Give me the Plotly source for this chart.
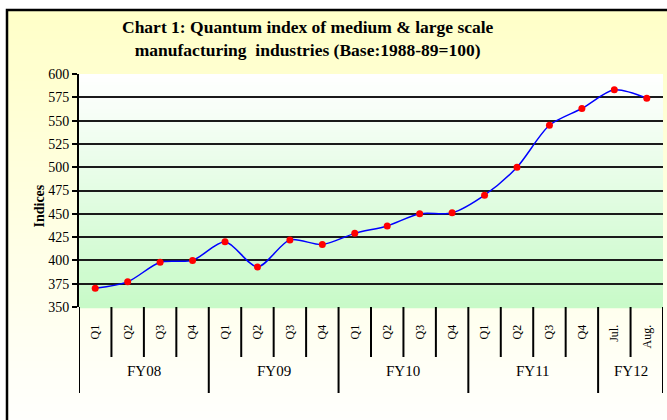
import plotly.graph_objects as go

# ---- data ----
groups = ["FY08", "FY09", "FY10", "FY11", "FY12"]
group_sizes = [4, 4, 4, 4, 2]
periods = ["Q1", "Q2", "Q3", "Q4",
           "Q1", "Q2", "Q3", "Q4",
           "Q1", "Q2", "Q3", "Q4",
           "Q1", "Q2", "Q3", "Q4",
           "Jul.", "Aug."]
indices = [370, 377, 398, 400,
           420, 393, 422, 417,
           429, 437, 450, 451,
           470, 500, 545, 563,
           583, 574]
y_ticks = [350, 375, 400, 425, 450, 475, 500, 525, 550, 575, 600]

W, H = 667, 420
ML, MR, MT, MB = 79, 4, 74, 113
PW, PH = W - ML - MR, H - MT - MB

def px_x(p):
    return (p - ML) / PW

def px_y(p):
    return (H - MB - p) / PH

xpos = list(range(len(periods)))
FONT = "Liberation Serif, Times New Roman, serif"

fig = go.Figure()
fig.add_trace(go.Scatter(
    x=xpos, y=indices, mode="lines+markers",
    line=dict(color="#0000FF", width=1.5, shape="spline", smoothing=0.8),
    marker=dict(color="#FF0000", size=7),
    showlegend=False, hoverinfo="y",
))

shapes = []

def mix(c1, c2, t):
    return "rgb(%d,%d,%d)" % tuple(round(a + (b - a) * t) for a, b in zip(c1, c2))

# outer gradient (yellow -> white)
top_px, bot_px = 10, 440
N = 60
for i in range(N):
    y0 = top_px + (bot_px - top_px) * i / N
    y1 = top_px + (bot_px - top_px) * (i + 1) / N + 0.8
    shapes.append(dict(type="rect", xref="paper", yref="paper",
                       x0=px_x(7), x1=px_x(700), y0=px_y(y0), y1=px_y(y1),
                       fillcolor=mix((255, 255, 200), (255, 255, 255), i / (N - 1)),
                       line=dict(width=0), layer="below"))
# plot-area gradient (white -> light green)
for i in range(N):
    y0 = i / N
    y1 = (i + 1) / N + 0.005
    shapes.append(dict(type="rect", xref="paper", yref="paper",
                       x0=0, x1=1, y0=1 - y1, y1=1 - y0,
                       fillcolor=mix((255, 255, 255), (200, 250, 200), i / (N - 1)),
                       line=dict(width=0), layer="below"))
# outer border
shapes.append(dict(type="rect", xref="paper", yref="paper",
                   x0=px_x(7), x1=px_x(720), y0=px_y(10), y1=px_y(470),
                   line=dict(color="black", width=2.5), fillcolor="rgba(0,0,0,0)",
                   layer="above"))

# category boundary lines and group labels
annotations = []
boundaries_group = set()
start = 0
for g, n in zip(groups, group_sizes):
    boundaries_group.add(start)
    annotations.append(dict(x=start + (n - 1) / 2, y=px_y(381), xref="x", yref="paper",
                            text=g, showarrow=False,
                            font=dict(family=FONT, size=15, color="black")))
    start += n
boundaries_group.add(start)
for k in range(len(periods) + 1):
    bottom = 393 if k in boundaries_group else 357
    shapes.append(dict(type="line", xref="x", yref="paper",
                       x0=k - 0.5, x1=k - 0.5, y0=0, y1=px_y(bottom),
                       line=dict(color="black", width=2), layer="above"))

annotations.append(dict(x=px_x(29), y=px_y(206), xref="paper", yref="paper",
                        text="<b>Indices</b>", textangle=-90, showarrow=False,
                        font=dict(family=FONT, size=14, color="black")))

# title
annotations.append(dict(
    x=px_x(308), y=px_y(38), xref="paper", yref="paper",
    xanchor="center", yanchor="middle", showarrow=False,
    text="<b>Chart 1: Quantum index of medium & large scale<br>manufacturing  industries (Base:1988-89=100)</b>",
    font=dict(family=FONT, size=17.5, color="black"),
))

fig.update_layout(
    width=W, height=H,
    margin=dict(l=ML, r=MR, t=MT, b=MB),
    paper_bgcolor="white",
    plot_bgcolor="rgba(0,0,0,0)",
    xaxis=dict(
        range=[-0.5, len(periods) - 0.5],
        tickvals=xpos, ticktext=periods, tickangle=-90,
        ticks="outside", ticklen=12, tickcolor="rgba(0,0,0,0)",
        showgrid=False, zeroline=False, showline=False,
        tickfont=dict(family=FONT, size=12, color="black"),
    ),
    yaxis=dict(
        range=[350, 600], tickvals=y_ticks,
        ticks="outside", ticklen=5, tickwidth=2, tickcolor="black",
        showline=True, linecolor="black", linewidth=2,
        showgrid=True, gridcolor="#1a1a1a", gridwidth=1.5,
        zeroline=False,
        tickfont=dict(family=FONT, size=14, color="black"),
    ),
    shapes=shapes,
    annotations=annotations,
)

fig.write_html("out.html", config={"displayModeBar": False},
               post_script="document.body.style.margin='0';")
